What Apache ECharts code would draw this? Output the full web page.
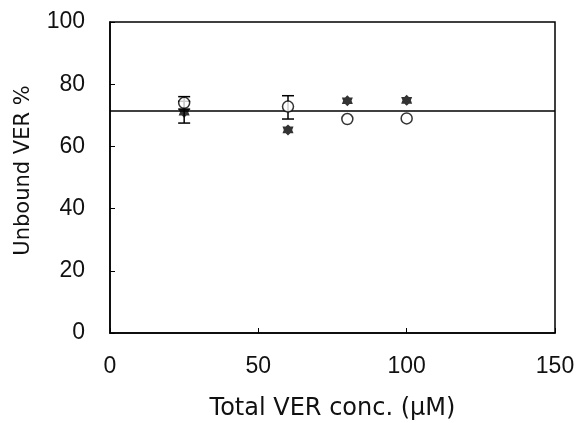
<!DOCTYPE html>
<html>
<head>
<meta charset="utf-8">
<script src="https://cdn.jsdelivr.net/npm/echarts@6/dist/echarts.min.js"></script>
<style>html,body{margin:0;padding:0;background:#fff;}#c{width:578px;height:423px;}</style>
</head>
<body>
<div id="c"></div>
<script>
var xTicks = [0, 50, 100, 150];
var yTicks = [0, 20, 40, 60, 80, 100];
var concentrations = [25, 60, 80, 100];
var filledValues = [71, 65.3, 74.7, 74.8];
var filledErrLow = [67.5, null, null, null];
var filledErrHigh = [74.5, null, null, null];
var openValues = [74, 72.8, 68.8, 69];
var openErrLow = [72, 68.8, null, null];
var openErrHigh = [76, 76.3, null, null];
var fitLevel = 71.4;

var filledData = concentrations.map(function (x, i) { return [x, filledValues[i]]; });
var openData = concentrations.map(function (x, i) { return [x, openValues[i]]; });
function errData(lo, hi) {
  var out = [];
  concentrations.forEach(function (x, i) { if (lo[i] != null) out.push([x, lo[i], hi[i]]); });
  return out;
}
function renderErr(params, api) {
  var x = api.value(0);
  var lo = api.coord([x, api.value(1)]);
  var hi = api.coord([x, api.value(2)]);
  var w = 6;
  var st = { stroke: '#000', lineWidth: 1.5 };
  return {
    type: 'group',
    children: [
      { type: 'line', shape: { x1: lo[0], y1: lo[1], x2: hi[0], y2: hi[1] }, style: st },
      { type: 'line', shape: { x1: lo[0] - w, y1: lo[1], x2: lo[0] + w, y2: lo[1] }, style: st },
      { type: 'line', shape: { x1: hi[0] - w, y1: hi[1], x2: hi[0] + w, y2: hi[1] }, style: st }
    ]
  };
}
var chart = echarts.init(document.getElementById('c'));
var tickFont = 'Liberation Sans, Arial, sans-serif';
var titleFont = 'DejaVu Sans, sans-serif';
chart.setOption({
  animation: false,
  grid: { left: 110, right: 23, top: 22, bottom: 90, containLabel: false, outerBoundsMode: 'none',
    show: true, borderColor: '#000', borderWidth: 1.5, backgroundColor: 'transparent' },
  xAxis: {
    type: 'value', min: 0, max: 150, interval: 50,
    name: 'Total VER conc. (μM)', nameLocation: 'middle', nameGap: 64,
    nameTextStyle: { fontSize: 24, color: '#111', fontFamily: titleFont },
    axisLine: { lineStyle: { color: '#000', width: 1.5 } },
    axisTick: { inside: true, length: 5, lineStyle: { color: '#000' } },
    axisLabel: { fontSize: 23, color: '#111', margin: 22, fontFamily: tickFont,
      formatter: function (v) { return xTicks.indexOf(v) >= 0 ? String(v) : ''; } },
    splitLine: { show: false }
  },
  yAxis: {
    type: 'value', min: 0, max: 100, interval: 20,
    name: 'Unbound VER %', nameLocation: 'middle', nameGap: 76,
    nameTextStyle: { fontSize: 21, color: '#111', fontFamily: titleFont, padding: [0, 0, 0, 14] },
    axisLine: { lineStyle: { color: '#000', width: 1.5 } },
    axisTick: { inside: true, length: 5, lineStyle: { color: '#000' } },
    axisLabel: { fontSize: 23, color: '#111', margin: 25, fontFamily: tickFont,
      formatter: function (v) { return yTicks.indexOf(v) >= 0 ? String(v) : ''; } },
    splitLine: { show: false }
  },
  series: [
    { type: 'line', data: [[xTicks[0], fitLevel], [xTicks[xTicks.length - 1], fitLevel]], symbol: 'none',
      lineStyle: { color: '#000', width: 1.6 }, silent: true, z: 1 },
    { type: 'custom', renderItem: renderErr, data: errData(filledErrLow, filledErrHigh), z: 2 },
    { type: 'custom', renderItem: renderErr, data: errData(openErrLow, openErrHigh), z: 2 },
    { type: 'scatter', data: filledData, symbol: 'path://M0,-10 L3.5,-6 L8.5,-6 L6.5,0 L8.5,6 L3.5,6 L0,10 L-3.5,6 L-8.5,6 L-6.5,0 L-8.5,-6 L-3.5,-6 Z',
      symbolSize: 11, itemStyle: { color: '#000' }, z: 4 },
    { type: 'scatter', data: openData, symbol: 'circle', symbolSize: 11,
      itemStyle: { color: '#fff', borderColor: '#000', borderWidth: 1.5 }, z: 5 }
  ]
});
</script>
</body>
</html>
